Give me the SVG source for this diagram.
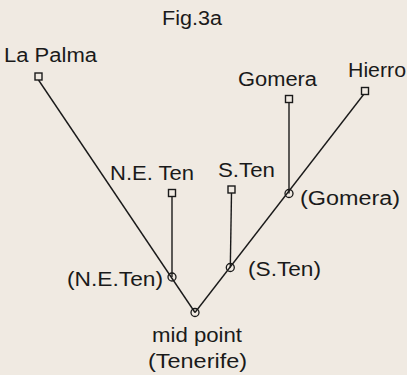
<svg xmlns="http://www.w3.org/2000/svg" width="407" height="375" viewBox="0 0 407 375">
<style>
text{font-family:"Liberation Sans",Arial,sans-serif;font-size:20px;fill:#1a1a1a}
.ln{stroke:#1a1a1a;stroke-width:1.4;fill:none}
.sq{stroke:#1a1a1a;stroke-width:1.4;fill:#f0eae2}
.ci{stroke:#1a1a1a;stroke-width:1.3;fill:none}
</style>
<rect width="407" height="375" fill="#f0eae2"/>
<text x="162" y="25" textLength="60" lengthAdjust="spacingAndGlyphs">Fig.3a</text>
<g id="connectors">
<line class="ln" x1="38.5" y1="80" x2="195" y2="312.5"/>
<line class="ln" x1="364" y1="94" x2="195" y2="312.5"/>
<line class="ln" x1="289" y1="102" x2="289" y2="193.5"/>
<line class="ln" x1="172" y1="196.5" x2="172" y2="277"/>
<line class="ln" x1="231.5" y1="193" x2="230.3" y2="267.5"/>
</g>
<g id="la-palma">
<rect class="sq" x="35" y="73" width="7" height="7"/>
<text x="4" y="62" textLength="93" lengthAdjust="spacingAndGlyphs">La Palma</text>
</g>
<g id="gomera">
<rect class="sq" x="285.5" y="95.5" width="7" height="7"/>
<text x="238" y="85.5" textLength="79" lengthAdjust="spacingAndGlyphs">Gomera</text>
</g>
<g id="hierro">
<rect class="sq" x="361.5" y="87.5" width="7" height="7"/>
<text x="348" y="77" textLength="58" lengthAdjust="spacingAndGlyphs">Hierro</text>
</g>
<g id="ne-ten">
<rect class="sq" x="168.5" y="189.5" width="7" height="7"/>
<text x="110" y="180" textLength="84" lengthAdjust="spacingAndGlyphs">N.E. Ten</text>
</g>
<g id="s-ten">
<rect class="sq" x="228" y="186" width="7" height="7"/>
<text x="218" y="177" textLength="57" lengthAdjust="spacingAndGlyphs">S.Ten</text>
</g>
<g id="gomera-junction">
<circle class="ci" cx="289" cy="193.5" r="4"/>
<text x="300" y="204.5" textLength="100" lengthAdjust="spacingAndGlyphs">(Gomera)</text>
</g>
<g id="s-ten-junction">
<circle class="ci" cx="230.3" cy="267.5" r="4"/>
<text x="248" y="276" textLength="73" lengthAdjust="spacingAndGlyphs">(S.Ten)</text>
</g>
<g id="ne-ten-junction">
<circle class="ci" cx="172" cy="277" r="4"/>
<text x="67" y="286" textLength="96" lengthAdjust="spacingAndGlyphs">(N.E.Ten)</text>
</g>
<g id="mid-point">
<circle class="ci" cx="195" cy="312.5" r="4"/>
<text x="152" y="342" textLength="90" lengthAdjust="spacingAndGlyphs">mid point</text>
<text x="148" y="368" textLength="99" lengthAdjust="spacingAndGlyphs">(Tenerife)</text>
</g>
</svg>
